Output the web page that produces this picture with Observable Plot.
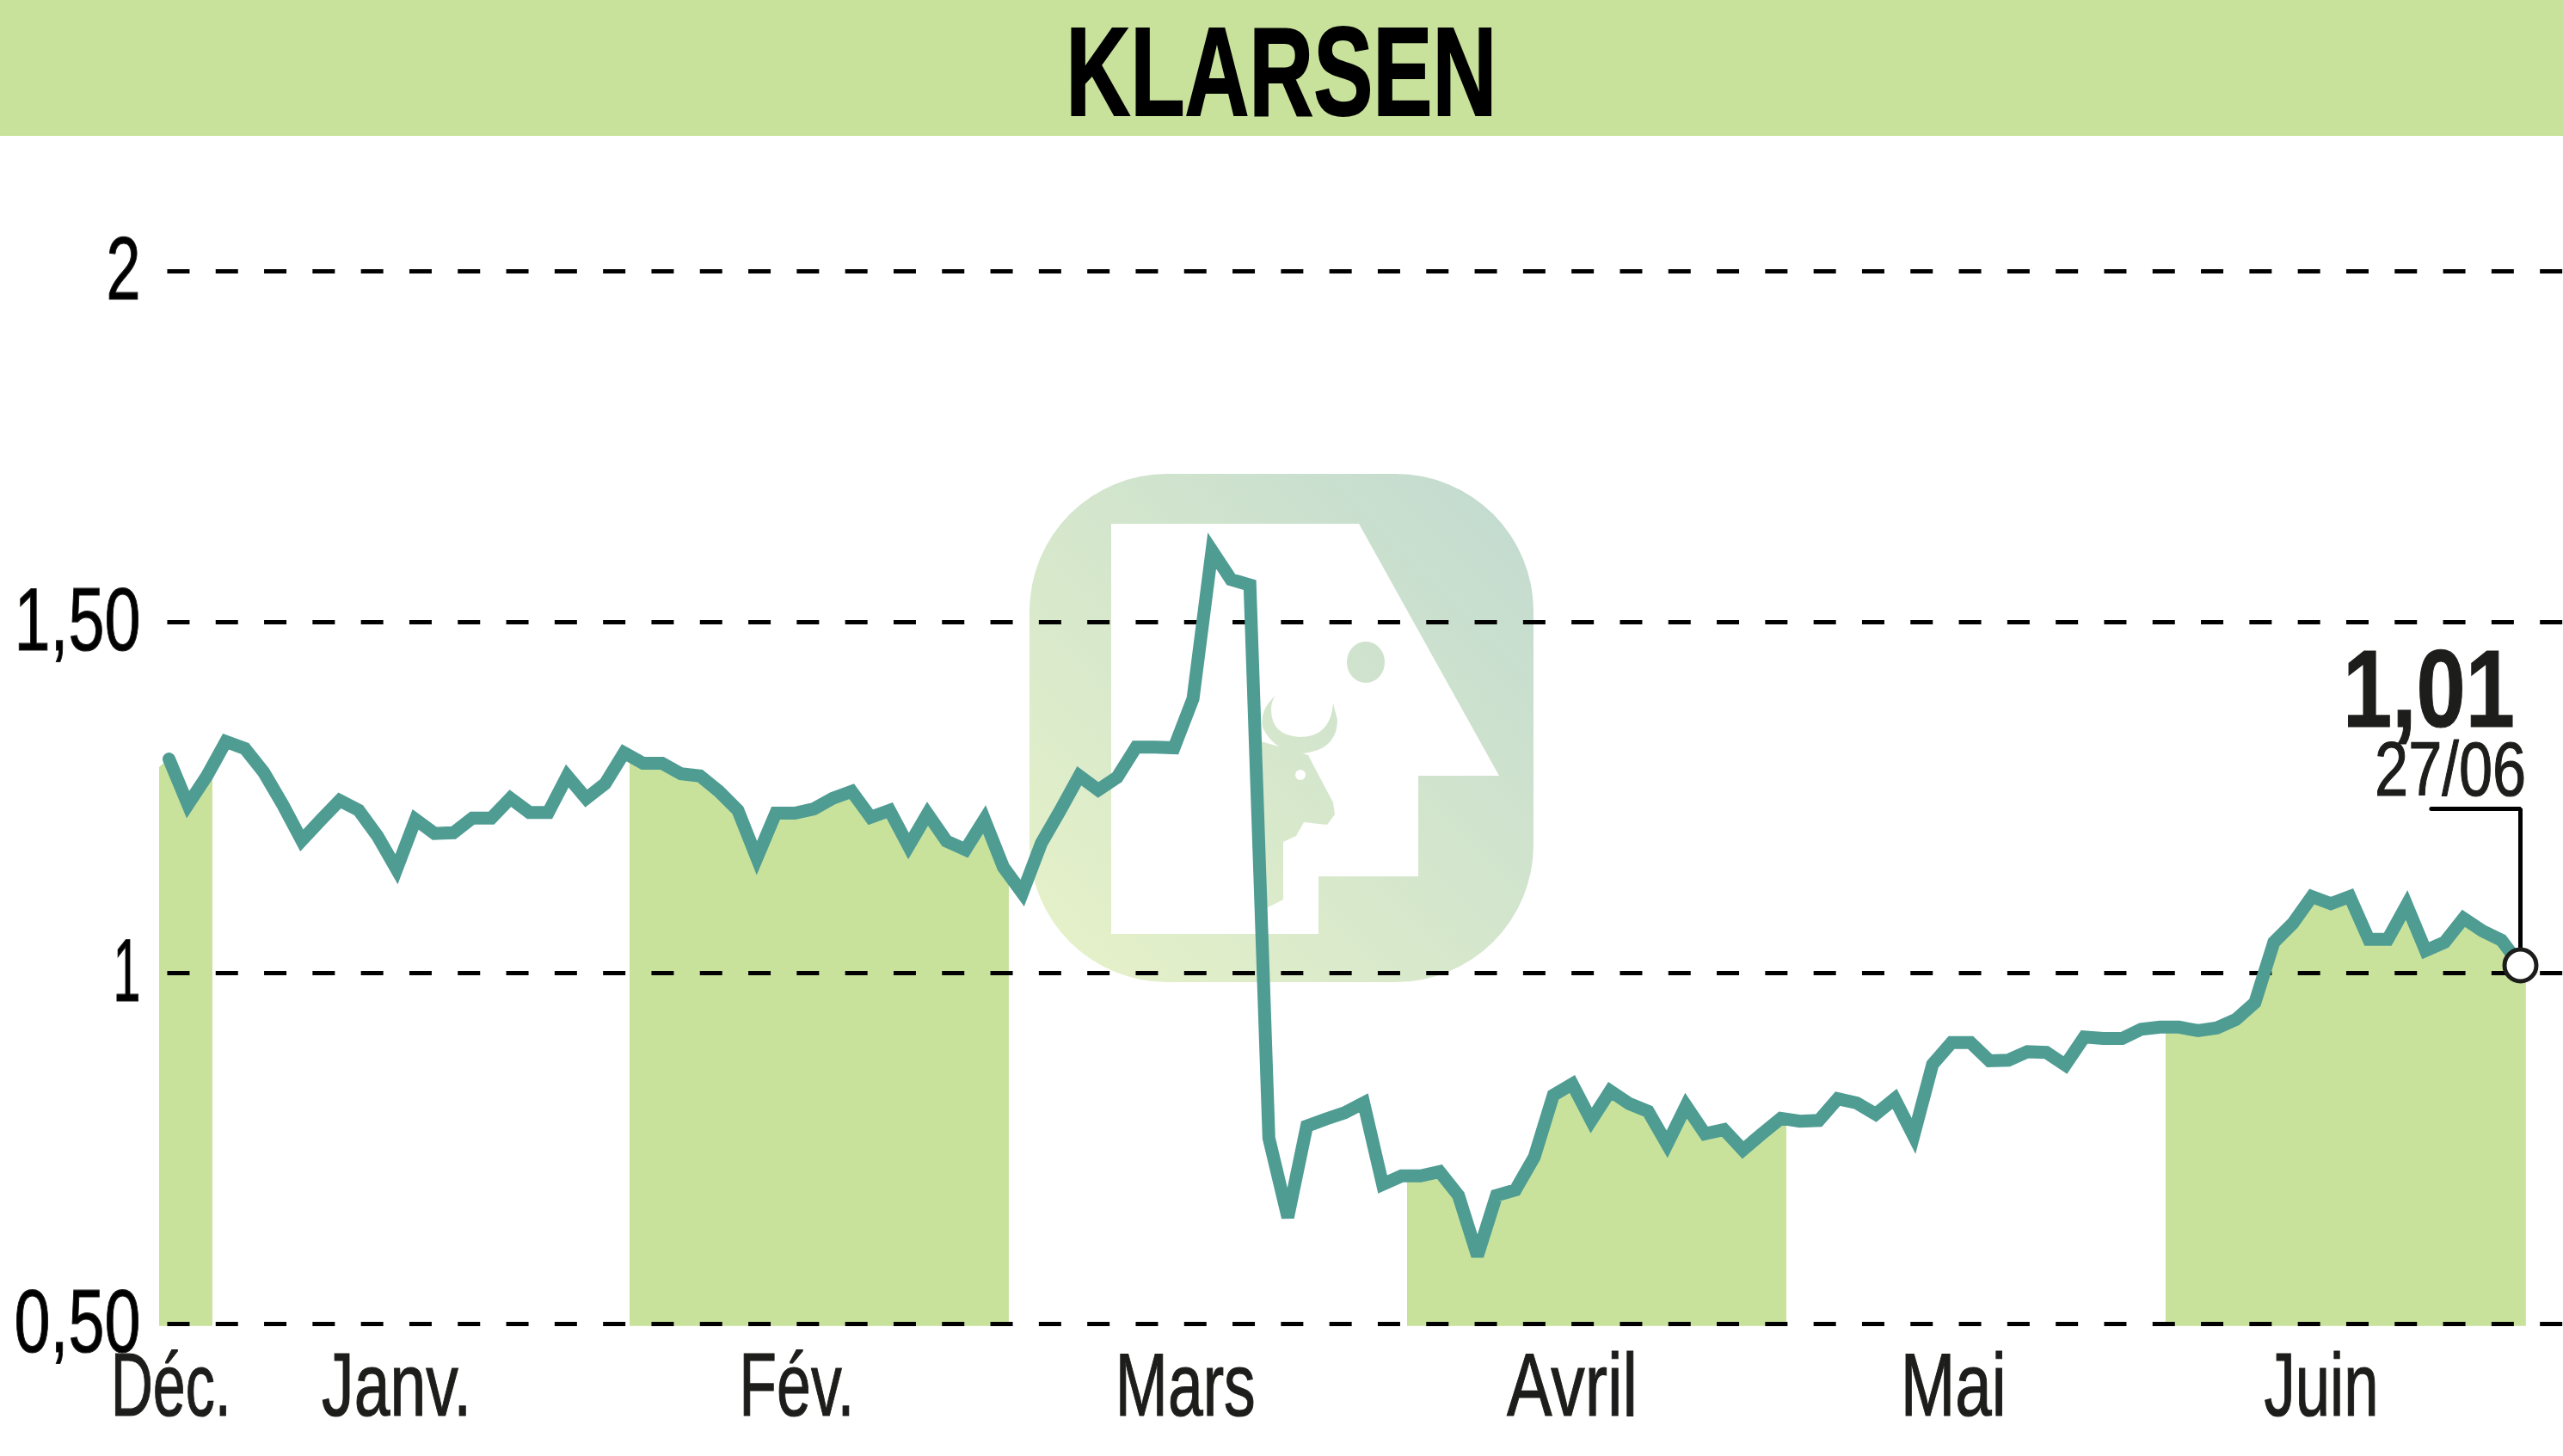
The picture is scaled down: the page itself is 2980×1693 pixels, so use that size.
<!DOCTYPE html>
<html lang="fr">
<head>
<meta charset="utf-8">
<title>KLARSEN</title>
<script src="https://cdn.jsdelivr.net/npm/d3@7"></script>
<script src="https://cdn.jsdelivr.net/npm/@observablehq/plot@0.6"></script>
<style>
  html, body { margin: 0; padding: 0; background: #fff; width: 2980px; height: 1693px; overflow: hidden; }
  #page { position: relative; width: 2980px; height: 1693px; font-family: "Liberation Sans", sans-serif; }
  #header { height: 158px; background: #C8E29C; display: flex; justify-content: center; }
  #header h1 { margin: 0; font-size: 146px; font-weight: 700; line-height: 168px; height: 158px; color: #000; transform: scaleX(.71); -webkit-text-stroke: 2px #000; }
  #logo { position: absolute; left: 0; top: 0; }
  #chart { position: absolute; left: 0; top: 158px; }
  #chart svg { background: transparent; display: block; }
  #chart text { stroke: #1D1D1B; stroke-width: 1.2px; }
</style>
</head>
<body>
<div id="page">
  <div id="header"><h1>KLARSEN</h1></div>
  <svg id="logo" width="2980" height="1693" aria-hidden="true">
    <defs>
      <linearGradient id="lg" gradientUnits="userSpaceOnUse" x1="1230" y1="1120" x2="1770" y2="590">
        <stop offset="0" stop-color="#E5F1C8"/>
        <stop offset="1" stop-color="#C3DBD0"/>
      </linearGradient>
    </defs>
    <rect x="1197" y="551" width="586" height="591" rx="160" fill="url(#lg)"/>
    <path d="M1292 609H1580L1743 902H1649V1019H1533V1086H1292Z" fill="#fff"/>
    <path d="M1466 862L1521 878L1533 901L1550 933L1552 947L1543 959L1516 956L1507 972L1492 979V1046L1468 1058Z" fill="url(#lg)"/>
    <path d="M1484 808Q1464 825 1468 846Q1483 876 1516 876Q1555 871 1555 837L1550 818Q1547 857 1511 857Q1478 855 1478 825Q1478 814 1484 808Z" fill="url(#lg)"/>
    <circle cx="1512" cy="901" r="6" fill="#fff"/>
    <ellipse cx="1588" cy="770" rx="22" ry="24" fill="url(#lg)"/>
  </svg>
  <div id="chart"></div>
</div>
<script>
const company = "KLARSEN";

// Daily closing prices, one per trading session, 27 Dec to 27 June
const closes = [
  1.305,1.240,1.281,1.330,1.320,1.286,1.240,1.189,1.218,1.246,
  1.232,1.195,1.148,1.219,1.199,1.200,1.221,1.221,1.249,1.229,
  1.229,1.281,1.249,1.270,1.314,1.299,1.299,1.284,1.281,1.259,
  1.232,1.164,1.228,1.228,1.234,1.249,1.259,1.222,1.232,1.181,
  1.227,1.188,1.176,1.219,1.151,1.114,1.185,1.232,1.281,1.261,
  1.279,1.322,1.322,1.321,1.391,1.602,1.561,1.553,0.765,0.652,
  0.782,0.792,0.801,0.815,0.699,0.711,0.711,0.717,0.683,0.597,
  0.683,0.691,0.738,0.826,0.842,0.790,0.832,0.814,0.803,0.756,
  0.811,0.771,0.777,0.748,0.771,0.793,0.789,0.790,0.821,0.815,
  0.799,0.821,0.768,0.870,0.901,0.901,0.875,0.876,0.888,0.887,
  0.869,0.909,0.907,0.907,0.920,0.923,0.923,0.918,0.922,0.934,
  0.958,1.044,1.071,1.109,1.099,1.109,1.048,1.048,1.097,1.032,
  1.044,1.078,1.060,1.047,1.011
];

// Y axis
const priceTicks = [0.5, 1, 1.5, 2];
const priceTickLabels = ["0,50", "1", "1,50", "2"];

// X axis: month names, placed by trading session number
const monthNames = ["Déc.", "Janv.", "Fév.", "Mars", "Avril", "Mai", "Juin"];
const monthTickSessions = [0.1, 12, 33.1, 53.6, 74, 94.1, 113.5];

// Alternate months are shaded under the curve (session bounds)
const shadedMonthNames = ["Déc.", "Fév.", "Avril", "Juin"];
const shadedStarts = [-0.5, 24.31, 65.31, 105.31];
const shadedEnds = [2.31, 44.31, 85.31, 124.31];

// Last quote callout
const lastValueLabel = "1,01";
const lastDateLabel = "27/06";
const calloutElbowPrice = 1.234;
const calloutStartSession = 119.3;

// Condensed lettering: the width each label is fitted to
const labelWidths = {
  "Déc.": 140, "Janv.": 174, "Fév.": 134, "Mars": 163, "Avril": 152, "Mai": 123, "Juin": 133,
  "0,50": 147, "1,50": 147, "1": 32, "2": 40, "1,01": 200, "27/06": 176
};

const lastSession = closes.length - 1;
const rows = closes.map((close, session) => ({session, close}));

function closeAt(s) {
  if (s <= 0) return closes[0] - 0.012;
  if (s >= lastSession) return closes[lastSession];
  const i = Math.floor(s), t = s - i;
  return closes[i] + (closes[i + 1] - closes[i]) * t;
}

const shaded = shadedMonthNames.flatMap((month, k) => {
  const a = shadedStarts[k], b = shadedEnds[k];
  const inner = rows.filter(r => r.session > a && r.session < b)
    .map(r => ({month, session: r.session, close: r.close}));
  return [{month, session: a, close: closeAt(a)}, ...inner, {month, session: b, close: closeAt(b)}];
});

const fontFamily = '"Liberation Sans", sans-serif';
const green = "#C8E29C", teal = "#4F9C93", ink = "#1D1D1B";

const chart = Plot.plot({
  width: 2980,
  height: 1535,
  marginLeft: 170,
  marginBottom: 154,
  marginTop: 0,
  marginRight: 0,
  style: {background: "transparent", fontFamily},
  x: {domain: [0, lastSession], range: [196, 2930], axis: null},
  y: {domain: [0.5, 2], range: [1381, 157], axis: null},
  marks: [
    Plot.areaY(shaded, {x: "session", y1: () => 0.4965, y2: "close", z: "month", fill: green, curve: "linear"}),
    Plot.ruleY(priceTicks, {
      x1: () => -0.07, x2: () => 126.3, stroke: "#000", strokeWidth: 5, strokeDasharray: "26 30.3"
    }),
    Plot.axisY(priceTicks, {
      anchor: "left", tickSize: 0, tickPadding: 7, fontSize: 103, fill: "#000",
      tickFormat: d => priceTickLabels[priceTicks.indexOf(d)], label: null
    }),
    Plot.axisX(monthTickSessions, {
      anchor: "bottom", tickSize: 0, tickPadding: 33, fontSize: 103, fill: ink,
      tickFormat: d => monthNames[monthTickSessions.indexOf(d)], label: null
    }),
    Plot.line(rows, {
      x: "session", y: "close", stroke: teal, strokeWidth: 15,
      strokeLinejoin: "miter", strokeMiterlimit: 3, curve: "linear"
    }),
    Plot.line([
      {s: calloutStartSession, p: calloutElbowPrice},
      {s: lastSession, p: calloutElbowPrice},
      {s: lastSession, p: closes[lastSession]}
    ], {x: "s", y: "p", stroke: "#000", strokeWidth: 5, strokeLinejoin: "miter", curve: "linear"}),
    Plot.dot([rows[lastSession]], {
      x: "session", y: "close", r: 18.5, fill: "#fff", stroke: ink, strokeWidth: 5
    }),
    Plot.text([lastValueLabel], {
      x: () => 123.7, y: () => 1.401, text: d => d, textAnchor: "end", lineAnchor: "middle",
      fontSize: 128, fontWeight: 700, fill: ink
    }),
    Plot.text([lastDateLabel], {
      x: () => 124.3, y: () => 1.2875, text: d => d, textAnchor: "end", lineAnchor: "middle",
      fontSize: 89, fill: ink
    })
  ]
});
document.getElementById("chart").appendChild(chart);

chart.querySelectorAll("text").forEach(t => {
  const w = labelWidths[t.textContent.trim()];
  if (w) {
    t.setAttribute("textLength", w);
    t.setAttribute("lengthAdjust", "spacingAndGlyphs");
  }
});
</script>
</body>
</html>
